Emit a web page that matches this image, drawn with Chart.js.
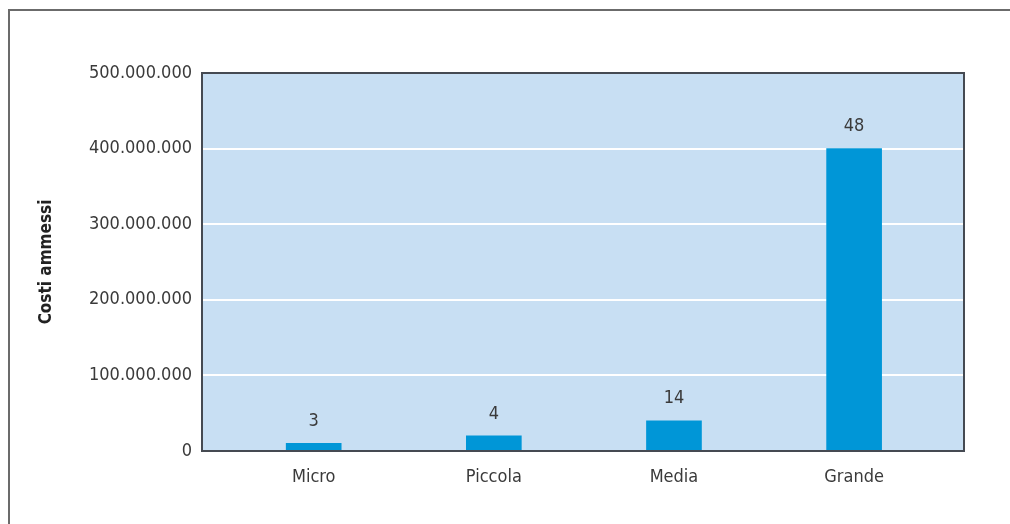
<!DOCTYPE html>
<html>
<head>
<meta charset="utf-8">
<script src="https://cdn.jsdelivr.net/npm/chart.js@4.4.1/dist/chart.umd.min.js"></script>
<style>
  html, body { margin: 0; padding: 0; background: #fff; overflow: hidden; }
  #frame {
    position: absolute; left: 8px; top: 9px; width: 1020px; height: 540px;
    border-left: 2px solid #6b6b6b; border-top: 2px solid #6b6b6b;
  }
  #wrap { position: absolute; left: 0; top: 0; width: 1010px; height: 524px; }
</style>
</head>
<body>
<div id="frame"></div>
<div id="wrap"><canvas id="chart" width="1010" height="524"></canvas></div>
<script>
'use strict';

/* ── DATA ──────────────────────────────────────────────────────── */
var categories = ['Micro', 'Piccola', 'Media', 'Grande'];
var costs      = [10000000, 20000000, 40000000, 400000000];   // Costi ammessi
var counts     = [3, 4, 14, 48];                               // numero progetti (etichette)
var yTicks     = [0, 100000000, 200000000, 300000000, 400000000, 500000000];

var FONT = "'Liberation Sans Narrow', 'DejaVu Sans Condensed', 'Arial Narrow', sans-serif";
var TEXT = '#3a3a3a';

function fmtDots(v) {
  return String(Math.round(v)).replace(/\B(?=(\d{3})+(?!\d))/g, '.');
}

/* ── PLUGINS ───────────────────────────────────────────────────── */
var plotBox = {
  id: 'plotBox',
  beforeDraw: function(chart) {
    var a = chart.chartArea, ctx = chart.ctx;
    ctx.save();
    ctx.fillStyle = '#c8dff3';
    ctx.fillRect(a.left, a.top, a.right - a.left, a.bottom - a.top);
    ctx.restore();
  },
  afterDraw: function(chart) {
    var a = chart.chartArea, ctx = chart.ctx;
    ctx.save();
    ctx.strokeStyle = '#454a52';
    ctx.lineWidth = 2;
    ctx.strokeRect(a.left, a.top, a.right - a.left, a.bottom - a.top);
    ctx.restore();
  }
};

var barLabels = {
  id: 'barLabels',
  afterDatasetsDraw: function(chart) {
    var ctx = chart.ctx;
    var meta = chart.getDatasetMeta(0);
    ctx.save();
    ctx.font = '18px ' + FONT;
    ctx.fillStyle = TEXT;
    ctx.textAlign = 'center';
    ctx.textBaseline = 'middle';
    meta.data.forEach(function(bar, i) {
      ctx.fillText(String(counts[i]), bar.x, bar.y - 22);
    });
    ctx.restore();
  }
};

/* ── CHART ─────────────────────────────────────────────────────── */
new Chart(document.getElementById('chart'), {
  type: 'bar',
  data: {
    datasets: [{
      label: 'Costi ammessi',
      data: categories.map(function(c, i) { return { x: i, y: costs[i] }; }),
      backgroundColor: '#0096d7',
      borderWidth: 0,
      barThickness: 55
    }]
  },
  options: {
    responsive: false,
    animation: false,
    layout: { padding: { left: 20, top: 73, right: 46, bottom: 0 } },
    plugins: { legend: { display: false }, tooltip: { enabled: false } },
    scales: {
      x: {
        type: 'linear',
        offset: false,
        min: -0.62,
        max: 3.61,
        grid: { display: false, drawTicks: false, offset: false },
        border: { display: false },
        afterBuildTicks: function(scale) {
          scale.ticks = categories.map(function(c, i) { return { value: i }; });
        },
        afterFit: function(scale) { scale.height = 73; },
        ticks: {
          padding: 16,
          color: TEXT,
          font: { family: FONT, size: 18 },
          callback: function(v) { return categories[v]; }
        }
      },
      y: {
        min: 0,
        max: 500000000,
        afterBuildTicks: function(scale) {
          scale.ticks = yTicks.map(function(v) { return { value: v }; });
        },
        afterFit: function(scale) { scale.width = 182; },
        grid: { color: '#ffffff', lineWidth: 2, drawTicks: false },
        border: { display: false },
        ticks: {
          padding: 10,
          color: TEXT,
          font: { family: FONT, size: 18 },
          callback: function(v) { return fmtDots(v); }
        },
        title: {
          display: true,
          text: 'Costi ammessi',
          color: '#222',
          padding: { top: 16, bottom: 0 },
          font: { family: FONT, size: 17, weight: 'bold' }
        }
      }
    }
  },
  plugins: [plotBox, barLabels]
});
</script>
</body>
</html>
